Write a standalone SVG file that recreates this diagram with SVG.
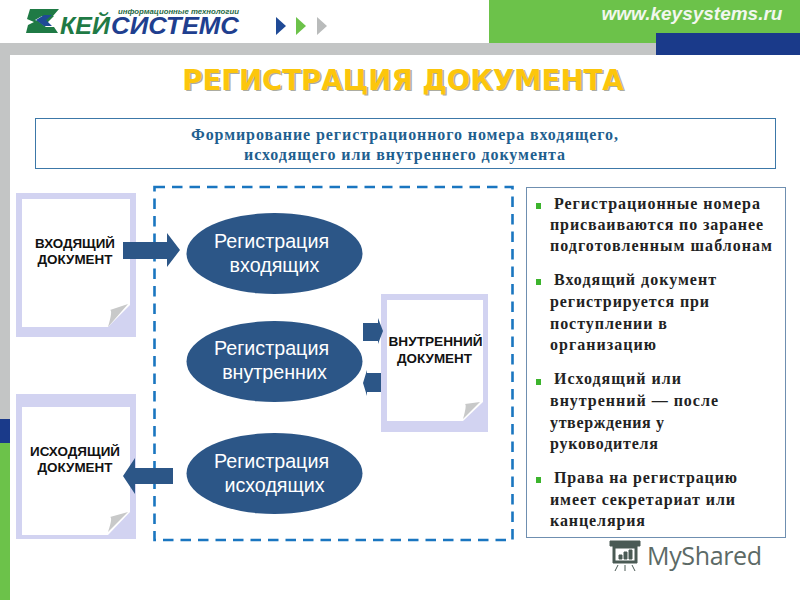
<svg xmlns="http://www.w3.org/2000/svg" width="800" height="600" viewBox="0 0 800 600">
<style>
.doc{fill:#d2d3f1}
.page{fill:#fff}
.fold{fill:#c8c9c9}
.dt{font:bold 13px "Liberation Sans",Arial,sans-serif;fill:#111;text-anchor:middle}
.el{fill:#2c5687}
.et{font:19.700px "Liberation Sans",Arial,sans-serif;fill:#fff;text-anchor:middle}
.ar{fill:#2c5687}
.b{font:bold 16px "Liberation Serif","Times New Roman",serif;fill:#222}
.bu{fill:#3cb42d}
.ti{font:bold 27.600px "DejaVu Sans",Verdana,sans-serif;text-anchor:middle}
.su{font:bold 16px "Liberation Serif",serif;fill:#1f5f8f}
.lg{font:italic bold 23px "Liberation Sans",Arial,sans-serif}
</style>
<rect width="800" height="600" fill="#fff"/>
<g id="header">
<rect x="489" y="0" width="311" height="43" fill="#6cc24a"/>
<rect x="0" y="43" width="656" height="12" fill="#c3c5c5"/>
<rect x="656" y="33" width="144" height="22" fill="#1a3a8a"/>
<rect x="0" y="43" width="10" height="376" fill="#c3c5c5"/>
<rect x="0" y="419" width="10" height="24" fill="#1a3a8a"/>
<rect x="0" y="443" width="10" height="157" fill="#6cc24a"/>
<text x="692" y="20" text-anchor="middle" style="font:italic bold 19px 'Liberation Sans',Arial,sans-serif" fill="#f2f7ee">www.keysystems.ru</text>
<path d="M30 9H59L53 16H42L35 20L46 24L54 16H46L38 21L46 27H54L58 33H26L28 25L34 22L27 19Z" fill="#1f7a45"/>
<path d="M36 20L44 15H52L46 20L52 26H44Z" fill="#1f4a96"/>
<text x="118" y="14" textLength="121" lengthAdjust="spacingAndGlyphs" style="font:italic bold 7.500px 'Liberation Sans',Arial,sans-serif" fill="#1f6a45">информационные технологии</text>
<text class="lg" x="60" y="33.500" fill="#1f7a45" textLength="50" lengthAdjust="spacingAndGlyphs">КЕЙ</text>
<text class="lg" x="111" y="33.500" fill="#1f3f8f" textLength="128" lengthAdjust="spacingAndGlyphs">СИСТЕМС</text>
<path d="M276 17L286 26L276 35Z" fill="#1f4a96"/>
<path d="M296 17L306 26L296 35Z" fill="#6cc24a"/>
<path d="M317 17L327 26L317 35Z" fill="#b9bbbb"/>
</g>
<g id="title" class="ti">
<text x="404.500" y="91" fill="#8a8a7a" opacity=".7">РЕГИСТРАЦИЯ ДОКУМЕНТА</text>
<text x="403" y="89.500" fill="#fcc60c">РЕГИСТРАЦИЯ ДОКУМЕНТА</text>
</g>
<g id="subtitle">
<rect x="35.500" y="118.500" width="740" height="50" fill="#fff" stroke="#3c78a8"/>
<text class="su" x="191" y="140" textLength="427">Формирование регистрационного номера входящего,</text>
<text class="su" x="244" y="160" textLength="321">исходящего или внутреннего документа</text>
</g>
<rect id="frame" x="154.500" y="187" width="358" height="353" fill="none" stroke="#1a76c0" stroke-width="2.600" stroke-dasharray="10.500 7"/>
<g id="doc-in">
<rect class="doc" x="16" y="193" width="120" height="144"/>
<path class="page" d="M22 199H130V305L108 327H22Z"/>
<path class="fold" d="M128 304L108 327Q113 310 110 310Z"/>
<text class="dt" x="75" y="248" textLength="80" lengthAdjust="spacingAndGlyphs">ВХОДЯЩИЙ</text>
<text class="dt" x="75" y="264" textLength="75" lengthAdjust="spacingAndGlyphs">ДОКУМЕНТ</text>
</g>
<g id="doc-out">
<rect class="doc" x="16" y="394" width="120" height="145"/>
<path class="page" d="M22 407H130V512L108 535H22Z"/>
<path class="fold" d="M128 512L108 532Q113 517 110 517Z"/>
<text class="dt" x="75" y="456" textLength="90" lengthAdjust="spacingAndGlyphs">ИСХОДЯЩИЙ</text>
<text class="dt" x="75" y="472" textLength="75" lengthAdjust="spacingAndGlyphs">ДОКУМЕНТ</text>
</g>
<g id="doc-int">
<rect class="doc" x="381" y="294" width="107" height="138"/>
<path class="page" d="M387 300H483V402L463 421H387Z"/>
<path class="fold" d="M480 402L463 419Q467 405 465 404Z"/>
<text class="dt" x="435.500" y="346" textLength="94" lengthAdjust="spacingAndGlyphs">ВНУТРЕННИЙ</text>
<text class="dt" x="434.500" y="363" textLength="75" lengthAdjust="spacingAndGlyphs">ДОКУМЕНТ</text>
</g>
<g id="node-in">
<ellipse class="el" cx="274.500" cy="253.500" rx="88" ry="40.500"/>
<text class="et" x="271.500" y="248">Регистрация</text>
<text class="et" x="274.500" y="272">входящих</text>
</g>
<g id="node-int">
<ellipse class="el" cx="274.500" cy="361.500" rx="88" ry="40.500"/>
<text class="et" x="271.500" y="355">Регистрация</text>
<text class="et" x="274.500" y="379">внутренних</text>
</g>
<g id="node-out">
<ellipse class="el" cx="274.500" cy="473.500" rx="88" ry="40.500"/>
<text class="et" x="271.500" y="468">Регистрация</text>
<text class="et" x="274.500" y="492">исходящих</text>
</g>
<g id="connectors">
<path class="ar" d="M123 242H167V233L180 250L167 267V259H123Z"/>
<path class="ar" d="M173 468H135V458L123 476L135 494V484H173Z"/>
<path class="ar" d="M363 323H378V318L383 331L378 344V341H363Z"/>
<path class="ar" d="M381 373H367V370L363 383L367 396V392H381Z"/>
</g>
<g id="notes">
<rect x="526.500" y="187.500" width="259" height="350" fill="#fff" stroke="#6f8fb0"/>
<g class="bu"><rect x="536" y="203" width="5" height="6"/><rect x="536" y="279" width="5" height="6"/><rect x="536" y="379" width="5" height="6"/><rect x="536" y="477" width="5" height="6"/></g>
<g class="b">
<text x="554" y="209" textLength="206">Регистрационные номера</text>
<text x="550" y="230" textLength="213">присваиваются по заранее</text>
<text x="550" y="251" textLength="222">подготовленным шаблонам</text>
<text x="554" y="285" textLength="162">Входящий документ</text>
<text x="550" y="307" textLength="159">регистрируется при</text>
<text x="550" y="329" textLength="117">поступлении в</text>
<text x="550" y="350" textLength="106">организацию</text>
<text x="554" y="384" textLength="127">Исходящий или</text>
<text x="550" y="406" textLength="168">внутренний — после</text>
<text x="550" y="428" textLength="114">утверждения у</text>
<text x="550" y="449" textLength="108">руководителя</text>
<text x="554" y="483" textLength="183">Права на регистрацию</text>
<text x="550" y="505" textLength="185">имеет секретариат или</text>
<text x="550" y="526" textLength="95">канцелярия</text>
</g>
</g>
<g id="watermark">
<path d="M610 541H640V546H637V563H613V546H610Z M615 548V561H635V548Z M619 559V555H622V559Z M624 559V552H627V559Z M629 559V550H632V559Z M618 565L615 571M625 565V571M632 565L635 571" fill="#4a5a55" stroke="#4a5a55" stroke-width="1" fill-rule="evenodd"/>
<text x="647" y="565" style="font:25px 'Open Sans','Liberation Sans',sans-serif" fill="#5c6a66" textLength="115">MyShared</text>
</g>
</svg>
